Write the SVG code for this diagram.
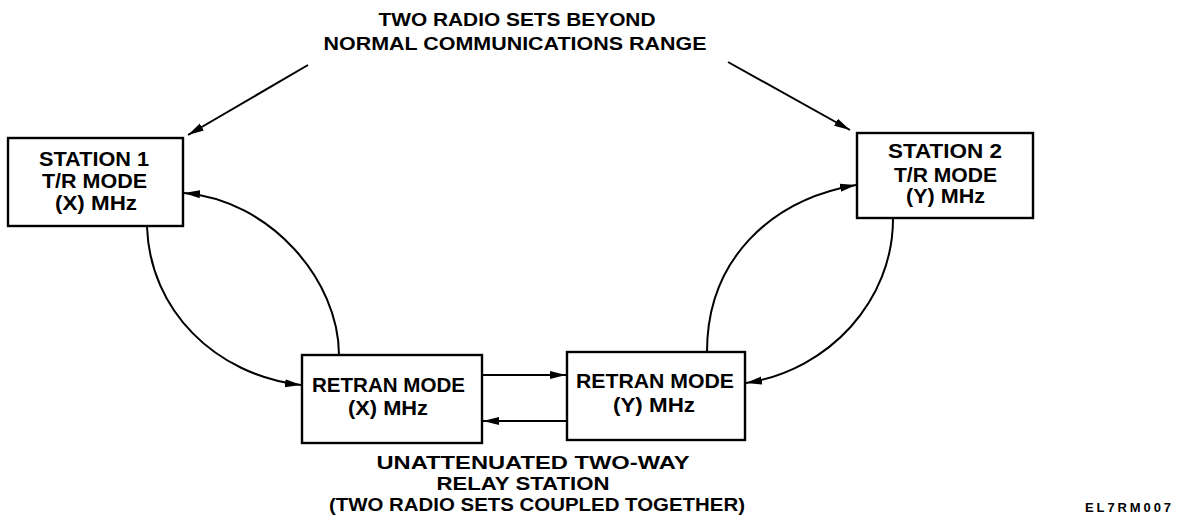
<svg xmlns="http://www.w3.org/2000/svg" width="1177" height="523" viewBox="0 0 1177 523">
<style>
.box{fill:#fff;stroke:#000;stroke-width:2.4}
.t{font-family:"Liberation Sans",Arial,sans-serif;font-weight:bold;font-size:20px;fill:#000;text-anchor:middle}
.lbl{font-family:"Liberation Sans",Arial,sans-serif;font-weight:bold;font-size:17.5px;fill:#000;text-anchor:middle}
.c{fill:none;stroke:#000;stroke-width:2}
</style>
<defs>
<marker id="ah" markerUnits="userSpaceOnUse" markerWidth="17" markerHeight="10" refX="16" refY="4.5" orient="auto">
<path d="M0,0.5 L16,4.5 L0,8.5 z" fill="#000"/>
</marker>
</defs>
<rect width="1177" height="523" fill="#fff"/>
<g id="title">
<text class="lbl" x="517" y="26" textLength="277" lengthAdjust="spacingAndGlyphs">TWO RADIO SETS BEYOND</text>
<text class="lbl" x="515" y="50" textLength="383" lengthAdjust="spacingAndGlyphs">NORMAL COMMUNICATIONS RANGE</text>
</g>
<g id="connectors">
<line class="c" x1="308" y1="65" x2="188" y2="135" marker-end="url(#ah)"/>
<line class="c" x1="728" y1="62" x2="850" y2="130" marker-end="url(#ah)"/>
<path class="c" d="M339,355 C339,280 270,200 184,193" marker-end="url(#ah)"/>
<path class="c" d="M147,227 C150,310 215,375 301,385" marker-end="url(#ah)"/>
<path class="c" d="M707,352 C707,260 770,200 856,185" marker-end="url(#ah)"/>
<path class="c" d="M893,219 C893,300 830,370 746,383" marker-end="url(#ah)"/>
<line class="c" x1="482" y1="375" x2="566" y2="375" marker-end="url(#ah)"/>
<line class="c" x1="567" y1="421" x2="483" y2="421" marker-end="url(#ah)"/>
</g>
<g id="station1">
<rect class="box" x="8" y="138" width="175" height="88"/>
<text class="t" x="94" y="165.5" textLength="110" lengthAdjust="spacingAndGlyphs">STATION 1</text>
<text class="t" x="94.5" y="188" textLength="105" lengthAdjust="spacingAndGlyphs">T/R MODE</text>
<text class="t" x="96" y="210" textLength="82" lengthAdjust="spacingAndGlyphs">(X) MHz</text>
</g>
<g id="station2">
<rect class="box" x="857" y="133" width="176" height="85"/>
<text class="t" x="945" y="158" textLength="114" lengthAdjust="spacingAndGlyphs">STATION 2</text>
<text class="t" x="945.5" y="182" textLength="103" lengthAdjust="spacingAndGlyphs">T/R MODE</text>
<text class="t" x="945.5" y="203" textLength="79" lengthAdjust="spacingAndGlyphs">(Y) MHz</text>
</g>
<g id="retranX">
<rect class="box" x="302" y="355" width="180" height="88"/>
<text class="t" x="388.5" y="392" textLength="153" lengthAdjust="spacingAndGlyphs">RETRAN MODE</text>
<text class="t" x="388" y="415" textLength="80" lengthAdjust="spacingAndGlyphs">(X) MHz</text>
</g>
<g id="retranY">
<rect class="box" x="567" y="352" width="178" height="88"/>
<text class="t" x="655" y="388" textLength="158" lengthAdjust="spacingAndGlyphs">RETRAN MODE</text>
<text class="t" x="654" y="412" textLength="82" lengthAdjust="spacingAndGlyphs">(Y) MHz</text>
</g>
<g id="relay-label">
<text class="lbl" x="533" y="469" textLength="313" lengthAdjust="spacingAndGlyphs">UNATTENUATED TWO-WAY</text>
<text class="lbl" x="523" y="490" textLength="173" lengthAdjust="spacingAndGlyphs">RELAY STATION</text>
<text class="lbl" x="537" y="511" textLength="416" lengthAdjust="spacingAndGlyphs">(TWO RADIO SETS COUPLED TOGETHER)</text>
</g>
<text class="lbl" x="1128" y="512" style="font-size:13px" textLength="86" lengthAdjust="spacing">EL7RM007</text>
</svg>
